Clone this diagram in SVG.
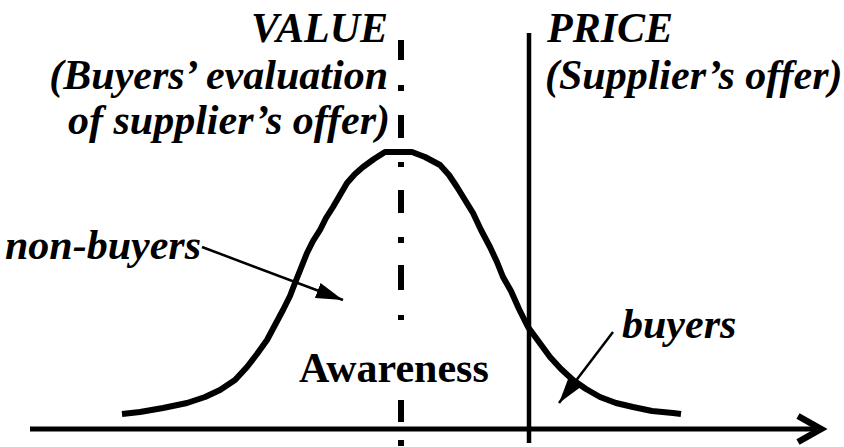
<svg xmlns="http://www.w3.org/2000/svg" width="844" height="447" viewBox="0 0 844 447">
  <style>
    text { font-family: 'Liberation Serif', 'Times New Roman', Times, serif; font-size: 42px; font-weight: bold; fill: #000; }
    .it { font-style: italic; }
    .thin { stroke: #000; stroke-width: 2.5; fill: none; }
  </style>
  <defs>
    <marker id="ah" markerUnits="userSpaceOnUse" markerWidth="28" markerHeight="16" refX="27" refY="8" orient="auto">
      <path d="M0,0 L27,8 L0,16 z" fill="#000"/>
    </marker>
  </defs>
  <rect width="844" height="447" fill="#fff"/>

  <g id="axis">
    <line x1="30" y1="429" x2="820" y2="429" stroke="#000" stroke-width="5"/>
    <polyline points="798,416 821,429 798,442" fill="none" stroke="#000" stroke-width="6.5" stroke-linejoin="miter"/>
  </g>

  <g id="value-line">
    <path d="M401,40 V60 M401,85 V91 M401,115 V138 M401,162 V167 M401,190 V213 M401,237 V243 M401,265 V290 M401,315 V320 M401,400 V422 M401,440 V446" stroke="#000" stroke-width="6" fill="none"/>
  </g>

  <g id="price-line">
    <line x1="529" y1="33" x2="529" y2="443" stroke="#000" stroke-width="4.5"/>
  </g>

  <g id="curve">
    <polyline fill="none" stroke="#000" stroke-width="6" stroke-linejoin="round" stroke-linecap="butt"
      points="122,414 140,412 163,408 187,403 205,397 220,390 235,380 247,367 257,354 267,340 275,325 283,310 290,296 295,283 301,268 307,253 313,241 320,230 326,218 333,207 340,195 347,183 355,174 363,167 374,159 385,152 412,152 425,157 440,165 449,175 457,187 465,200 473,213 481,230 490,247 497,262 503,277 511,291 519,309 528,327 539,342 550,357 561,369 573,380 586,389 600,397 616,403 633,407 652,411 673,413 681,414"/>
  </g>

  <g id="connectors">
    <line class="thin" x1="202" y1="247" x2="343" y2="300" marker-end="url(#ah)"/>
    <line class="thin" x1="613" y1="332" x2="559" y2="403" marker-end="url(#ah)"/>
  </g>

  <g id="value-label">
    <text class="it" x="388" y="42" text-anchor="end">VALUE</text>
    <text class="it" x="388" y="89" text-anchor="end">(Buyers’ evaluation</text>
    <text class="it" x="390" y="134" text-anchor="end">of supplier’s offer)</text>
  </g>

  <g id="price-label">
    <text class="it" x="547" y="42">PRICE</text>
    <text class="it" x="545" y="89">(Supplier’s offer)</text>
  </g>

  <g id="non-buyers">
    <text class="it" x="5" y="259">non-buyers</text>
  </g>

  <g id="buyers">
    <text class="it" x="622" y="338">buyers</text>
  </g>

  <g id="awareness">
    <text x="299" y="382">Awareness</text>
  </g>
</svg>
